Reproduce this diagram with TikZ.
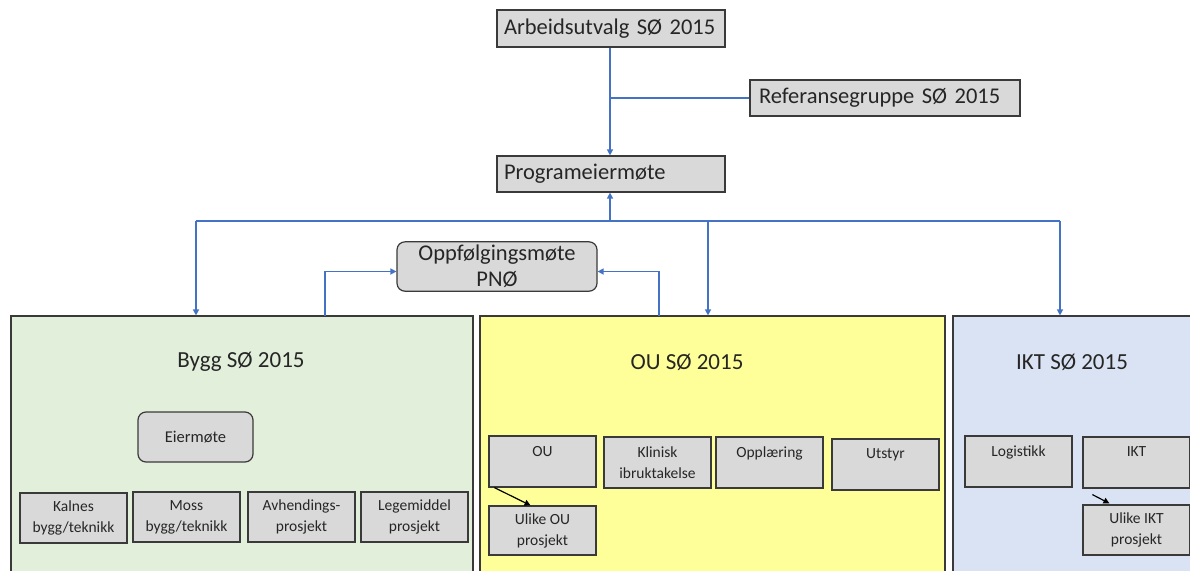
\documentclass[tikz,border=0pt]{standalone}
\usepackage{fontspec}
\setmainfont{Carlito}
\usetikzlibrary{arrows.meta}
\definecolor{boxgray}{HTML}{D9D9D9}
\definecolor{edgegray}{HTML}{3A3A3A}
\definecolor{linkblue}{HTML}{4472C4}
\definecolor{byggfill}{HTML}{E2EFDA}
\definecolor{oufill}{HTML}{FFFF99}
\definecolor{iktfill}{HTML}{DAE3F3}
\definecolor{txt}{HTML}{262626}
\begin{document}
\begin{tikzpicture}[x=1pt,y=-1pt,
  topbox/.style={draw=edgegray, line width=1.2pt, fill=boxgray, text=txt,
    inner xsep=7pt, align=left, minimum height=37pt,
    font=\fontsize{22.5}{26}\selectfont},
  roundbox/.style={draw=edgegray, line width=1.2pt, fill=boxgray, text=txt,
    rounded corners=8pt, align=center},
  smallbox/.style={draw=edgegray, line width=1.2pt, fill=boxgray, text=txt,
    minimum width=107pt, minimum height=50pt, align=center, inner sep=2pt,
    font=\fontsize{15.5}{21}\selectfont},
  group/.style={draw=edgegray, line width=1.2pt, minimum height=300pt},
  grouptitle/.style={text=txt, font=\fontsize{23}{27}\selectfont},
  link/.style={draw=linkblue, line width=1.4pt},
  linkarrow/.style={link, -{Triangle[length=6pt,width=6pt]}},
  blackarrow/.style={draw=black, line width=1.2pt, -{Triangle[length=6pt,width=6pt]}}
]
\clip (0,0) rectangle (1190,570);
\fill[white] (0,0) rectangle (1190,570);

% top of the hierarchy
\node[topbox, text width=214pt] (arb) at (611,28.5) {Arbeidsutvalg SØ 2015};
\node[topbox, text width=252pt, minimum height=36pt, inner xsep=9pt] (ref) at (885,98) {Referansegruppe SØ 2015};
\node[topbox, text width=214pt, minimum height=36pt] (prog) at (611,174) {Programeiermøte};
\node[roundbox, minimum width=200pt, minimum height=49pt,
      font=\fontsize{22.5}{26}\selectfont] (opp) at (497,266.5) {Oppfølgingsmøte\\PNØ};

% the three sub-programmes
\node[group, fill=byggfill, minimum width=462pt] (bygg) at (242,466) {};
\node[group, fill=oufill, minimum width=465pt] (ou) at (712.5,466) {};
\node[group, fill=iktfill, minimum width=247pt] (ikt) at (1076.5,466) {};
\node[grouptitle] (byggtitle) at (241,362) {Bygg SØ 2015};
\node[grouptitle] (outitle) at (687,362) {OU SØ 2015};
\node[grouptitle] (ikttitle) at (1072,362) {IKT SØ 2015};

% Bygg
\node[roundbox, minimum width=115pt, minimum height=50pt,
      font=\fontsize{16.5}{20}\selectfont] (eier) at (195.5,437) {Eiermøte};
\node[smallbox] (kalnes) at (73.5,518) {Kalnes\\bygg/teknikk};
\node[smallbox] (moss) at (186.5,517) {Moss\\bygg/teknikk};
\node[smallbox] (avh) at (301.5,517) {Avhendings-\\prosjekt};
\node[smallbox] (lege) at (414.5,517) {Legemiddel\\prosjekt};

% OU
\node[smallbox, minimum height=51pt] (ouu) at (542.5,461.5) {OU\\\mbox{}};
\node[smallbox, minimum height=51pt] (klin) at (657.5,462.5) {Klinisk\\ibruktakelse};
\node[smallbox, minimum height=51pt] (oppl) at (769.5,462.5) {Opplæring\\\mbox{}};
\node[smallbox, minimum height=51pt] (utst) at (885.5,464.5) {Utstyr\\\mbox{}};
\node[smallbox, minimum height=49pt] (ulikeou) at (542.5,530.5) {Ulike OU\\prosjekt};

% IKT
\node[smallbox, minimum height=51pt] (logi) at (1018.5,461.5) {Logistikk\\\mbox{}};
\node[smallbox, minimum height=51pt] (iktb) at (1136.5,462.5) {IKT\\\mbox{}};
\node[smallbox, minimum height=50pt] (ulikeikt) at (1136.5,530) {Ulike IKT\\prosjekt};

% connectors between levels
\coordinate (refjoin) at (610,98);
\coordinate (busL) at (196,221);
\coordinate (busM) at (610,221);
\coordinate (busOU) at (708,221);
\coordinate (busR) at (1060,221);
\coordinate (byggup) at (325,316);
\coordinate (ouup) at (659,316);

\draw[linkarrow] (arb.south -| refjoin) -- (prog.north -| refjoin);
\draw[link] (refjoin) -- (ref.west);
\draw[link] (busL) -- (busR);
\draw[linkarrow] (busM) -- (prog.south -| busM);
\draw[linkarrow] (busL) -- (busL |- bygg.north);
\draw[linkarrow] (busOU) -- (busOU |- ou.north);
\draw[linkarrow] (busR) -- (busR |- ikt.north);
\draw[linkarrow] (byggup) |- ([yshift=-5pt]opp.west);
\draw[linkarrow] (ouup) |- ([yshift=-5pt]opp.east);

% links to the project groups
\draw[blackarrow] ([xshift=6pt]ouu.south west) -- ([xshift=-12pt]ulikeou.north);
\draw[blackarrow] ([xshift=10pt,yshift=-6pt]iktb.south west) -- ([xshift=27pt,yshift=1pt]ulikeikt.north west);
\end{tikzpicture}
\end{document}
